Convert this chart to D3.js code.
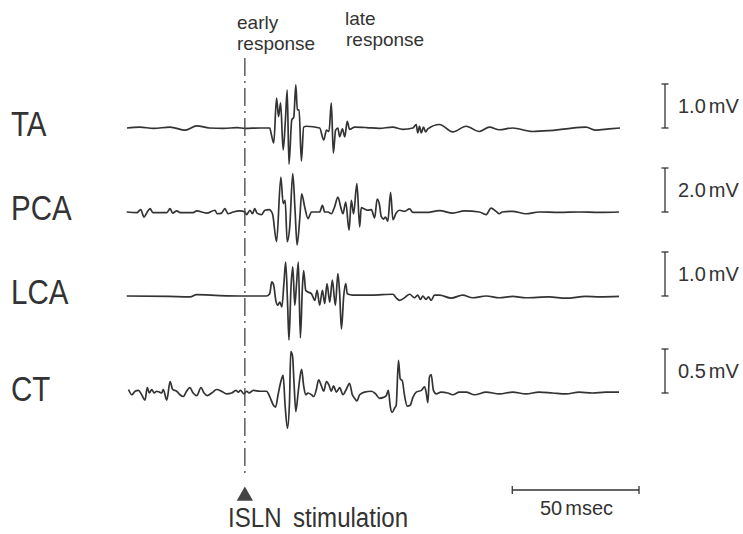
<!DOCTYPE html>
<html>
<head>
    <meta charset="utf-8">
    <title>ISLN stimulation responses</title>
    <script src="https://cdn.jsdelivr.net/npm/d3@7"></script>
    <style>
        body { margin: 0; background: #fff; }
        text { font-family: "Liberation Sans", Arial, Helvetica, sans-serif; fill: #333; }
    </style>
</head>
<body>
<svg id="drawingplace" width="743" height="534"></svg>
<script>

// channel names, scale bar values (mV) and their labels
let channels = ["TA", "PCA", "LCA", "CT"]
let barValues = [1.0, 2.0, 1.0, 0.5]
let barLabels = ["1.0", "2.0", "1.0", "0.5"]

// traces: [time in msec from ISLN stimulus, amplitude in mV]
let taData = [[-46.5,0],[-41.5,0.02],[-36,-0.01],[-29.5,0.02],[-23.5,-0.05],[-19,0.05],[-14,0],[-8.5,-0.01],[-3,0.01],[0,-0.01],[6,0],[9.8,0],
    [10.5,-0.16],[11.4,-0.34],[12.5,0.68],[13.3,0.26],[14.1,0.57],[15.1,-0.5],[16,0.18],[16.7,0.86],[17.4,-0.82],[18.5,0.18],[19.3,0.25],
    [20.1,0.98],[20.7,0.41],[21.4,0.41],[22.3,-0.75],[23.2,0.02],[24.3,0.04],[29.5,0],[31.1,-0.27],[32.2,-0.05],[33.2,-0.08],[34.1,0.57],
    [34.9,-0.57],[35.8,-0.05],[36.7,0],[37.4,-0.2],[38.5,-0.02],[39.4,-0.2],[40.4,0.15],[41.3,-0.03],[43.3,0.02],[48,0.01],[53,-0.01],
    [58.3,0.02],[62.3,-0.03],[66.3,0],[67.6,0.08],[68.2,-0.11],[68.9,0.04],[69.6,-0.11],[70.5,0.02],[71.3,-0.09],[72.2,-0.02],[76.8,0.08],
    [82,-0.09],[87.3,0.04],[92.5,-0.08],[96.5,0.02],[100.4,-0.04],[105.6,0],[113.5,-0.08],[120,-0.06],[126.7,-0.02],[134.5,0.02],
    [138.5,-0.05],[143.7,-0.02],[148,0]]

let pcaData = [[-46.6,0],[-42.6,-0.03],[-41.1,0.11],[-39.8,-0.23],[-38.5,0],[-37.4,0.15],[-36.3,-0.03],[-30.8,-0.03],[-29.5,0.15],
    [-28.5,-0.05],[-26.9,0.05],[-25.5,-0.03],[-20.4,-0.03],[-19,0.05],[-15.1,-0.05],[-11.8,0.08],[-10.9,-0.08],[-9.2,-0.05],[-7.9,0.15],
    [-6.6,-0.08],[-4.6,0],[-2,0.05],[0,0],[0.7,-0.12],[2,0.08],[3,-0.08],[3.9,0.15],[4.8,-0.05],[6.6,-0.12],[7.9,0.08],[9.6,0.11],
    [10.9,-0.08],[12.5,-1.35],[14.2,1.59],[15.1,0.38],[15.9,0.53],[16.7,-1.35],[17.7,-0.68],[18.9,1.74],[19.8,0.08],[20.6,-1.5],
    [21.7,-0.23],[22.4,0.83],[23.6,0.23],[24.9,-0.3],[26.3,0],[29.5,0],[30.6,0.3],[31.5,0],[32.8,0],[34.1,-0.08],[35.4,0.23],[36.7,0.68],
    [37.8,0.23],[38.7,-0.08],[39.8,0.45],[41.1,-0.83],[42,0.53],[42.9,-0.08],[44.2,1.29],[45.3,-0.68],[45.9,0.2],[47.2,0.14],[48.5,0.08],
    [49.9,0.11],[51.2,-0.27],[52.2,0.59],[53.1,0.33],[53.8,-0.2],[54.7,-0.32],[55.5,-0.23],[56.4,-0.42],[57.5,0.89],[58.4,-0.35],
    [59.7,-0.05],[61,0.08],[63,0.03],[65,0.14],[66.3,-0.02],[71.5,-0.02],[76.8,0.06],[82,-0.05],[86.6,0.05],[92.5,0],[95.2,-0.12],
    [97.1,0.18],[99.1,0.03],[100.4,-0.08],[101.5,0],[105.6,0.03],[110.9,-0.08],[116.1,0],[124,-0.02],[131.9,0],[139.8,-0.02],[147.6,0]]

let lcaData = [[-46.6,0],[-30,-0.01],[-21.6,-0.02],[-19,0.03],[-10,0.01],[0,0],[8.5,0],[9.8,0.05],[10.6,0.32],[11.4,0.24],[12.2,-0.1],
    [13,-0.21],[13.8,-0.14],[14.6,-0.25],[15.4,0.28],[16.1,0.77],[16.9,-0.25],[17.4,-1.0],[18.2,0.2],[18.9,0.66],[19.7,-0.21],[20.3,0.2],
    [21.1,0.77],[21.9,-0.95],[22.7,0.2],[23.2,0.58],[24,0.13],[24.9,0.09],[26.3,0.05],[27.6,-0.1],[28.5,0.13],[29.5,-0.21],[30.6,0.13],
    [31.5,-0.17],[32.4,0.28],[33.5,-0.14],[34.5,0.36],[35.7,-0.21],[36.7,0.51],[37.4,0.05],[38.1,-0.75],[39,0],[39.8,0.28],[40.4,0.05],
    [42.6,0.02],[50,0.02],[58.4,0.04],[59.7,-0.04],[61,-0.1],[63,-0.04],[65,0.04],[66.9,-0.04],[68.2,0.02],[69.3,-0.08],[70.2,0],
    [71.5,-0.08],[72.4,-0.02],[73.5,-0.1],[74.8,0.02],[76.8,0.02],[81.4,-0.05],[85.9,0.02],[89.9,-0.04],[95.2,0],[100.4,-0.04],
    [105.6,-0.01],[110.9,-0.04],[120,-0.02],[126.7,-0.05],[134.5,-0.01],[140,-0.02],[147.6,-0.01]]

let ctData = [[-45.9,0.04],[-44.6,-0.02],[-43.3,0.02],[-42,0.03],[-40.7,-0.02],[-39.4,-0.08],[-38.5,0.06],[-37.7,0],[-36.7,0.04],
    [-35.8,0],[-34.8,0.02],[-33.7,0.01],[-32.8,0],[-32.2,0.04],[-30.8,-0.08],[-29.5,0.13],[-28.5,0.04],[-26.9,0.02],[-25.6,-0.02],
    [-24.3,-0.04],[-23,0.02],[-21.7,0.06],[-20.4,0],[-19,-0.03],[-17.3,0.06],[-16.1,0],[-14.8,-0.03],[-13.1,0],[-11.1,0.04],[-9.2,0.02],
    [-7.2,-0.01],[-5.2,0],[-3.5,0.03],[-2.6,0.01],[-1.7,0.03],[-0.4,-0.01],[0.7,0.02],[1.7,0],[3.3,0.03],[5.9,0.02],[8.5,0.02],
    [9.8,-0.04],[11.1,-0.13],[12.1,-0.16],[13.1,-0.02],[14.2,0.13],[15.1,0.2],[15.9,-0.15],[16.8,-0.4],[17.6,-0.11],[18.1,0.47],
    [18.8,0.42],[19.4,0.11],[20.1,-0.21],[21,0],[21.7,0.17],[22.4,0.27],[23.2,0.08],[24,-0.02],[24.9,0],[26.3,-0.02],[27.2,-0.04],
    [28.2,0.04],[29.1,0.15],[30.2,0.08],[31.1,0.02],[32.2,0.13],[33.2,0.09],[34.1,0.02],[35,0.08],[36.1,0.01],[37.4,0.06],[38.7,-0.02],
    [40,0.04],[41.3,0.11],[42.4,-0.02],[43.3,-0.06],[44.2,-0.09],[45.3,-0.02],[47.2,0.01],[49.9,0.02],[51.6,-0.01],[53.1,-0.06],
    [54.7,-0.05],[55.8,-0.03],[56.6,0.03],[57.4,-0.16],[58.1,-0.22],[59.1,-0.17],[59.7,-0.14],[60.6,0.37],[61.3,0.16],[62.1,0.14],
    [63,-0.03],[64.1,-0.15],[65.2,-0.14],[66.3,-0.05],[67.6,0.01],[69.6,0.03],[70.9,0.07],[71.5,0.01],[72.2,-0.11],[72.8,0.18],
    [73.5,0.21],[74.4,0.03],[75.5,-0.01],[77.4,0.01],[80,0],[82,-0.02],[84.6,0.01],[87.3,0.01],[90.6,-0.02],[95.2,0.01],[100.4,-0.01],
    [105.6,0.01],[110.9,-0.01],[116.1,0.01],[121.4,0],[126.7,-0.01],[131.9,0.01],[137.1,0],[142.4,0.01],[147.6,0.01]]

let traces = [taData, pcaData, lcaData, ctData]

// time scale bar (msec)
let timeBarStart = 105.5
let timeBarLength = 50

let svg = d3.select("#drawingplace")
let ink = "#333"

// time axis shared by all channels
let x = d3.scaleLinear().domain([-46.5, 148]).range([127, 620])

let baselines = [128, 212, 296, 393] // trace zero line of each row
let barPx = 44 // pixel height of every amplitude scale bar

// monotone curve rounds the small wiggles without overshooting the spikes
let line = d3.line().curve(d3.curveMonotoneX)

channels.forEach((name, i) => {
    // amplitude scale: the scale bar value always spans barPx
    let y = d3.scaleLinear().domain([0, barValues[i]]).range([baselines[i], baselines[i] - barPx])

    svg.append("path")
        .attr("d", line.x(d => x(d[0])).y(d => y(d[1]))(traces[i]))
        .attr("fill", "none")
        .attr("stroke", "#333")
        .attr("stroke-width", 1.7)
        .attr("stroke-linejoin", "round")

    // channel label (condensed like the original lettering)
    svg.append("text")
        .attr("transform", `translate(11,${baselines[i] + 8}) scale(0.82,1)`)
        .attr("font-size", 36)
        .text(name)

    // vertical amplitude bar with end caps
    let bx = 665, y0 = y(0), y1 = y(barValues[i])
    let bar = svg.append("g").attr("stroke", ink).attr("stroke-width", 1.3)
    bar.append("line").attr("x1", bx).attr("x2", bx).attr("y1", y0).attr("y2", y1)
    bar.append("line").attr("x1", bx - 3.5).attr("x2", bx + 3.5).attr("y1", y0).attr("y2", y0)
    bar.append("line").attr("x1", bx - 3.5).attr("x2", bx + 3.5).attr("y1", y1).attr("y2", y1)

    let t = svg.append("text")
        .attr("x", 678)
        .attr("y", (y0 + y1) / 2 + 7)
        .attr("font-size", 20)
    t.append("tspan").text(barLabels[i])
    t.append("tspan").attr("dx", 3).text("mV")
})

// stimulus marker: dash-dot line and triangle
svg.append("line")
    .attr("x1", x(0)).attr("x2", x(0))
    .attr("y1", 58).attr("y2", 476)
    .attr("stroke", "#444")
    .attr("stroke-width", 1.3)
    .attr("stroke-dasharray", "18,5,2,5")

svg.append("path")
    .attr("d", d3.symbol().type(d3.symbolTriangle).size(115)())
    .attr("transform", `translate(${x(0)},496)`)
    .attr("fill", "#444")

// response labels
let respLabels = svg.append("g").attr("font-size", 19)
respLabels.append("text").attr("x", 237).attr("y", 29).text("early")
respLabels.append("text").attr("x", 237).attr("y", 50).text("response")
respLabels.append("text").attr("x", 345).attr("y", 25).text("late")
respLabels.append("text").attr("x", 346).attr("y", 46).text("response")

// stimulus label
svg.append("text")
    .attr("transform", "translate(228,527) scale(0.86,1)")
    .attr("font-size", 28)
    .text("ISLN")
svg.append("text")
    .attr("transform", "translate(293,527) scale(0.86,1)")
    .attr("font-size", 28)
    .text("stimulation")

// time scale bar
let tx0 = x(timeBarStart), tx1 = x(timeBarStart + timeBarLength)
let tbar = svg.append("g").attr("stroke", ink).attr("stroke-width", 1.3)
tbar.append("line").attr("x1", tx0).attr("x2", tx1).attr("y1", 490).attr("y2", 490)
tbar.append("line").attr("x1", tx0).attr("x2", tx0).attr("y1", 486).attr("y2", 494)
tbar.append("line").attr("x1", tx1).attr("x2", tx1).attr("y1", 486).attr("y2", 494)

let tl = svg.append("text").attr("x", 540).attr("y", 515).attr("font-size", 20)
tl.append("tspan").text("50")
tl.append("tspan").attr("dx", 3).text("msec")

</script>
</body>
</html>
